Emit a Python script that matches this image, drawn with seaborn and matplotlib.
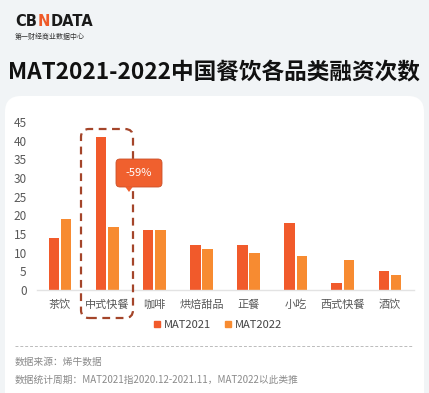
import matplotlib
matplotlib.use("Agg")
import matplotlib.pyplot as plt
import seaborn as sns
import pandas as pd
from matplotlib.patches import FancyBboxPatch, Polygon
from matplotlib.lines import Line2D
from matplotlib.transforms import IdentityTransform

categories = ["茶饮", "中式快餐", "咖啡", "烘焙甜品", "正餐", "小吃", "西式快餐", "酒饮"]
mat2021 = [14, 41, 16, 12, 12, 18, 2, 5]
mat2022 = [19, 17, 16, 11, 10, 9, 8, 4]
series = ["MAT2021", "MAT2022"]
yticks = [0, 5, 10, 15, 20, 25, 30, 35, 40, 45]
title = "MAT2021-2022中国餐饮各品类融资次数"
callout = "-59%"
note1 = "数据来源：烯牛数据"
note2 = "数据统计周期：MAT2021指2020.12-2021.11，MAT2022以此类推"

sns.set_theme(style="white")
plt.rcParams['font.family'] = ['Noto Sans CJK SC', 'DejaVu Sans']

W, H = 429, 393
fig = plt.figure(figsize=(W / 100, H / 100), dpi=100)
fig.patch.set_facecolor("#f1f4f6")

def px(x, y):
    return (x / W, 1 - y / H)

# white card
card = FancyBboxPatch((5, -20), 419, H - 96 + 20, boxstyle="round,pad=0,rounding_size=16",
                      transform=IdentityTransform(), facecolor="white", edgecolor="none", zorder=-10)
fig.patches.append(card)

# logo
fig.text(*px(15, 22), "CB", fontsize=10.5, fontweight="bold", color="#1a1a1a", va="center", ha="left",
         family="DejaVu Sans")
fig.text(*px(38, 22), "N", fontsize=10.5, fontweight="bold", color="#ef5a28", va="center", ha="left",
         family="DejaVu Sans")
fig.text(*px(51, 22), "DATA", fontsize=10.5, fontweight="bold", color="#1a1a1a", va="center", ha="left",
         family="DejaVu Sans")
fig.text(*px(15, 37), "第一财经商业数据中心", fontsize=5, color="#333333", va="center", ha="left")

# title
fig.text(*px(214, 72), title, fontsize=16.3, fontweight="bold", color="#111111", va="center", ha="center")

ax = fig.add_axes([36.5 / W, 1 - 290 / H, (413.5 - 36.5) / W, (290 - 122) / H])
ax.set_facecolor("none")

df = pd.DataFrame({
    "cat": categories * 2,
    "val": mat2021 + mat2022,
    "series": [series[0]] * len(categories) + [series[1]] * len(categories),
})
palette = {series[0]: "#f15a2b", series[1]: "#f78b31"}
sns.barplot(data=df, x="cat", y="val", hue="series", palette=palette, width=0.52, gap=0.15,
            ax=ax, legend=False, edgecolor="none", saturation=1)

ax.set_xlim(-0.5, len(categories) - 0.5)
ax.set_ylim(0, 45)
ax.set_yticks(yticks)
ax.set_xlabel("")
ax.set_ylabel("")
for s in ["top", "right", "left"]:
    ax.spines[s].set_visible(False)
ax.spines["bottom"].set_color("#e3e3e3")
ax.spines["bottom"].set_linewidth(1)
ax.tick_params(axis="y", length=0, labelsize=8.5, labelcolor="#595959", pad=7)
ax.tick_params(axis="x", length=0, labelsize=8, labelcolor="#595959", pad=7)
ax.grid(False)

# legend
handles = [Line2D([], [], marker="s", linestyle="none", markersize=5, color=palette[s]) for s in series]
fig.legend(handles, series, loc="center", bbox_to_anchor=px(218, 325), ncol=2, frameon=False,
           fontsize=8, handlelength=0.6, handletextpad=0.3, columnspacing=1.2, labelcolor="#444444")

# dashed highlight box
box = FancyBboxPatch((81, H - 318), 52, 318 - 129, boxstyle="round,pad=0,rounding_size=8",
                     transform=IdentityTransform(), facecolor="none", edgecolor="#a4452a",
                     linestyle=(0, (3.5, 2.5)), linewidth=1.6, zorder=5)
fig.patches.append(box)

# callout
cb = FancyBboxPatch((116, H - 187), 46, 28, boxstyle="round,pad=0,rounding_size=4",
                    transform=IdentityTransform(), facecolor="#f0602e", edgecolor="#c9502a",
                    linewidth=0.6, zorder=6)
fig.patches.append(cb)
tri = Polygon([(125, H - 186.5), (133, H - 186.5), (129, H - 192)], closed=True,
              transform=IdentityTransform(), facecolor="#f0602e", edgecolor="none", zorder=6)
fig.patches.append(tri)
fig.text(*px(139, 173), callout, fontsize=8, fontweight="medium", color="white", ha="center",
         va="center", zorder=7)

# separator & notes
fig.add_artist(Line2D([15 / W, 413 / W], [1 - 346 / H, 1 - 346 / H], transform=fig.transFigure,
                      color="#bbbbbb", linestyle=(0, (3, 2)), linewidth=0.7))
fig.text(*px(15, 362), note1, fontsize=7, color="#8a8a8a", ha="left", va="center")
fig.text(*px(15, 380), note2, fontsize=7, color="#8a8a8a", ha="left", va="center")

fig.savefig("out.png", dpi=100, facecolor=fig.get_facecolor())
